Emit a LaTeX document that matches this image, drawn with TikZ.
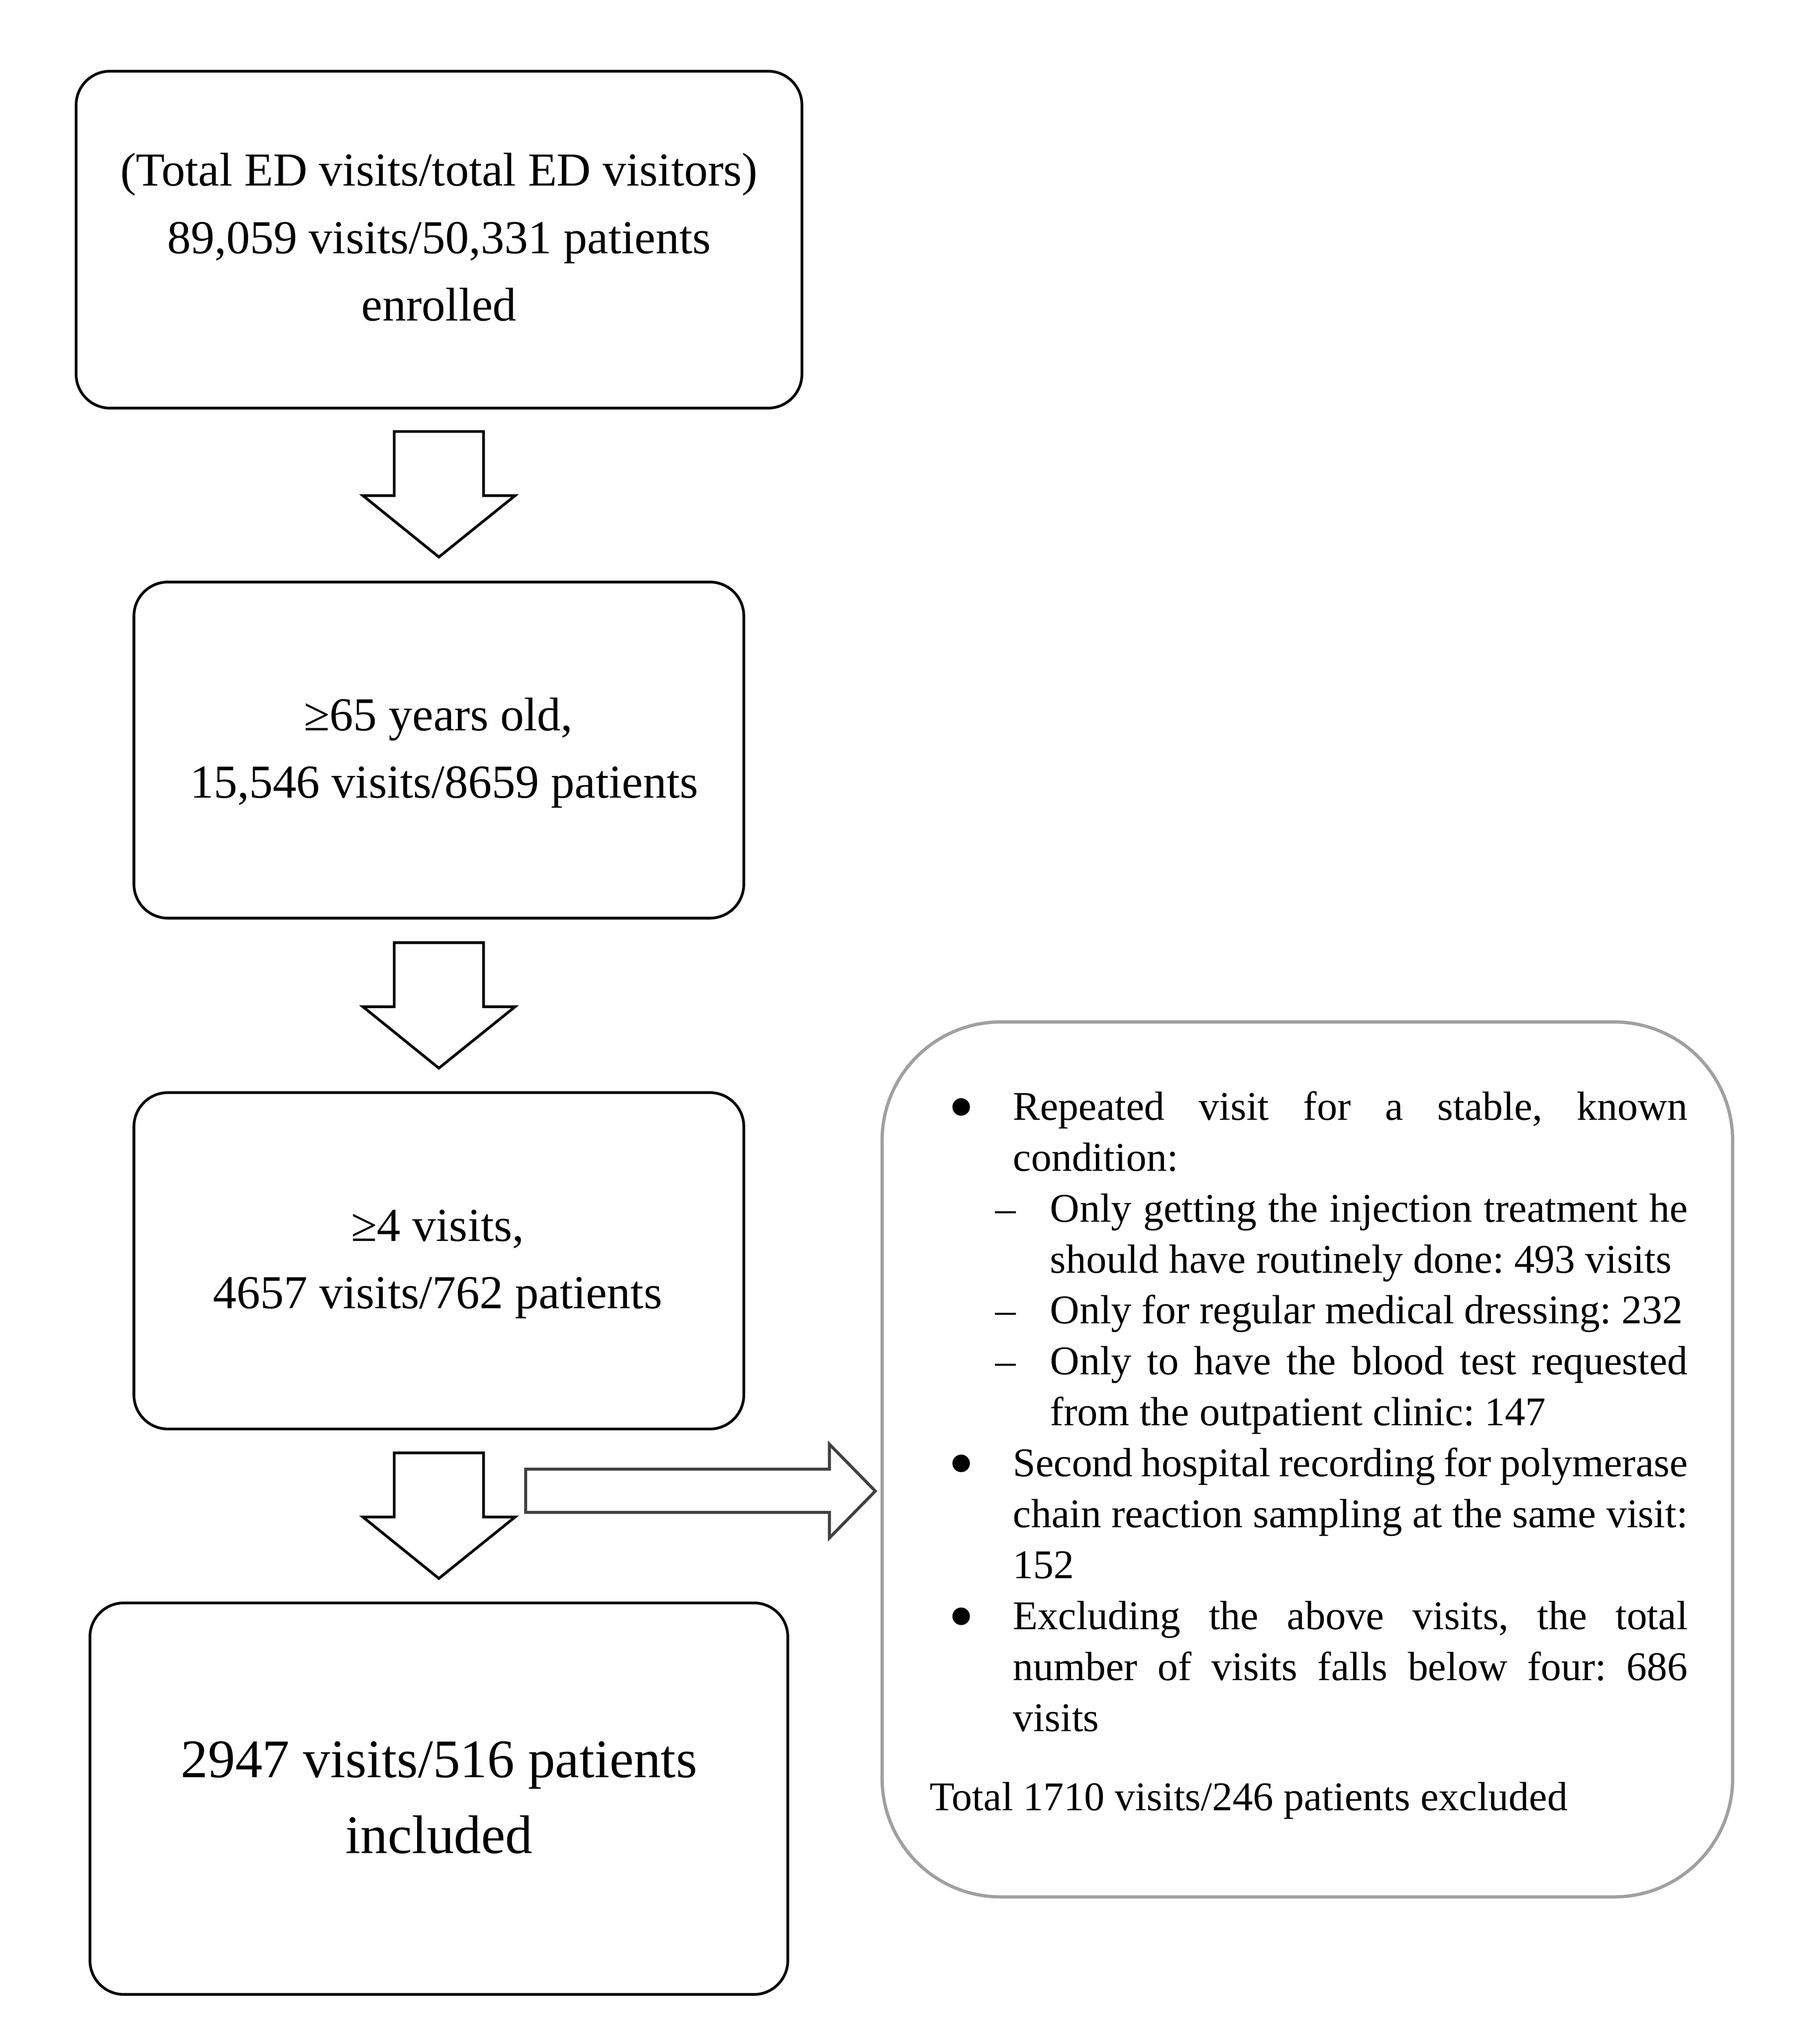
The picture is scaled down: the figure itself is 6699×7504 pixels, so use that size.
\documentclass[tikz,border=0pt]{standalone}
\usepackage{fontspec}
\usepackage{graphicx}
\setmainfont{Liberation Serif}
\definecolor{boxgray}{HTML}{A0A0A0}
\definecolor{arrowgray}{HTML}{404040}
\newcommand{\downblock}[1]{%
  \draw[blockarrow] (1451,#1) -- (1780,#1) -- (1780,{#1+236}) -- (1896,{#1+236})
    -- (1615.5,{#1+462}) -- (1336,{#1+236}) -- (1451,{#1+236}) -- cycle;}
\newcommand{\bigbullet}{\hspace*{-3.5pt}\raisebox{-4.2pt}{\scalebox{1.8}{\textbullet}}}
\frenchspacing
\begin{document}
\begin{tikzpicture}[x=0.1pt,y=-0.1pt,
  box/.style={draw=black, line width=1pt, rounded corners=12.5pt, inner sep=0pt},
  txt/.style={align=center, inner sep=0pt, font=\fontsize{17.4pt}{24.8pt}\selectfont},
  bigtxt/.style={align=center, inner sep=0pt, font=\fontsize{20pt}{28pt}\selectfont},
  blockarrow/.style={draw=black, line width=1pt, fill=white, line join=miter},
  sidearrow/.style={draw=arrowgray, line width=1.1pt, fill=white, line join=miter},
  exbox/.style={draw=boxgray, line width=1.2pt, rounded corners=43.6pt, inner sep=0pt},
  extxt/.style={anchor=base west, inner sep=0pt, text width=279pt, align=justify,
    font=\fontsize{15pt}{18.75pt}\selectfont}
]
\useasboundingbox (0,0) rectangle (6699,7504);

% boxes
\node[box, minimum width=267.2pt, minimum height=124pt] (b1) at (1616,882) {};
\node[box, minimum width=224.5pt, minimum height=123.7pt] (b2) at (1615.5,2760.5) {};
\node[box, minimum width=224.5pt, minimum height=123.8pt] (b3) at (1615.5,4640) {};
\node[box, minimum width=256.9pt, minimum height=144.1pt] (b4) at (1615.5,6619.5) {};
\node[exbox, minimum width=313.1pt, minimum height=322pt] (r) at (4812.5,5371) {};

% texts (anchor base = baseline of last line)
\node[txt, anchor=base] (t1) at (1616,1180) {(Total ED visits/total ED visitors)\\89,059 visits/50,331 patients\\enrolled};
\node[txt, anchor=base] (t2) at (1613,2937) {≥65 years old,\\\hspace*{0.25em}15,546 visits/8659 patients};
\node[txt, anchor=base] (t3) at (1611,4816) {≥4 visits,\\4657 visits/762 patients};
\node[bigtxt, anchor=base] (t4) at (1616,6821) {2947 visits/516 patients\\included};

\node[extxt] (rt) at (3421,3934) {\hyphenpenalty=10000\exhyphenpenalty=10000
\begin{list}{\bigbullet}{\setlength\leftmargin{30.6pt}\setlength\labelsep{20.2pt}%
  \setlength\labelwidth{0pt}\setlength\itemsep{0pt}\setlength\parsep{0pt}%
  \setlength\topsep{0pt}\setlength\partopsep{0pt}\setlength\rightmargin{0pt}\let\makelabel\rlap}
\item Repeated visit for a stable, known\linebreak condition:
\begin{list}{\textendash}{\setlength\leftmargin{13.7pt}\setlength\labelsep{20.2pt}%
  \setlength\labelwidth{0pt}\setlength\itemsep{0pt}\setlength\parsep{0pt}%
  \setlength\topsep{0pt}\setlength\partopsep{0pt}\setlength\rightmargin{0pt}\let\makelabel\rlap}
\item Only getting the injection treatment he\linebreak should have routinely done: 493 visits
\item Only for regular medical dressing: 232
\item Only to have the blood test requested\linebreak from the outpatient clinic: 147
\end{list}
\item Second hospital recording for polymerase\linebreak chain reaction sampling at the same visit:\linebreak 152
\item Excluding the above visits, the total\linebreak number of visits falls below four: 686\linebreak visits
\end{list}
\par\vspace{10.45pt}\noindent Total 1710 visits/246 patients excluded};

% arrows
\downblock{1588}
\downblock{3469}
\downblock{5347}
\draw[sidearrow] (1935,5407) -- (3053,5407) -- (3053,5315) -- (3222,5487.5)
  -- (3053,5660) -- (3053,5566) -- (1935,5566) -- cycle;
\end{tikzpicture}
\end{document}
